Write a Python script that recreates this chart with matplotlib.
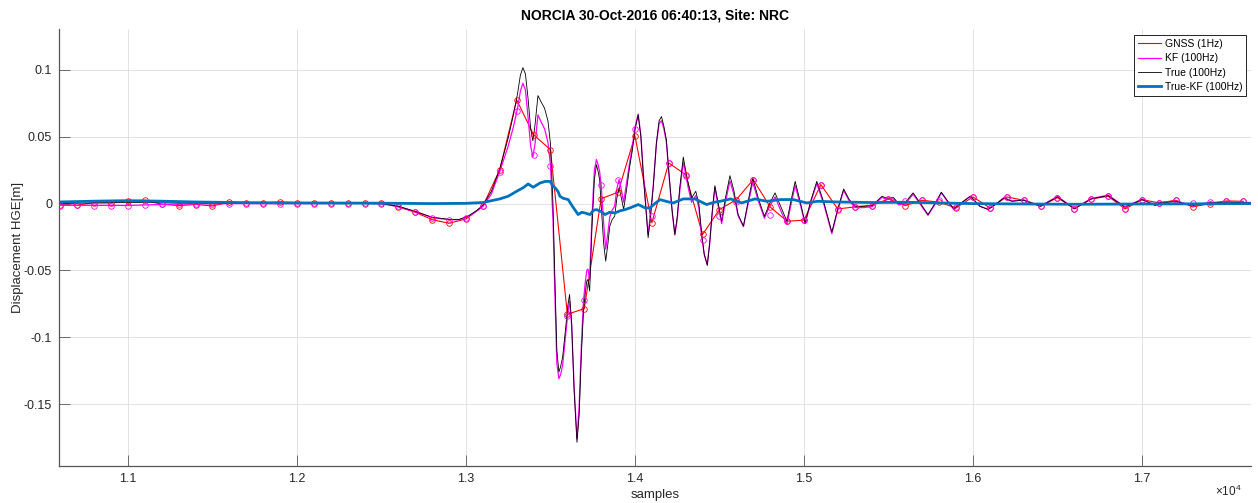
import numpy as np
import matplotlib.pyplot as plt

plt.rcParams['font.family'] = ['Liberation Sans', 'DejaVu Sans']
plt.rcParams['mathtext.fontset'] = 'custom'
plt.rcParams['mathtext.rm'] = 'Liberation Sans'

# GNSS epochs (1 Hz = every 100 samples)
gnss_samples = np.arange(10600, 17601, 100)
gnss_disp = [
    -0.0012, -0.0012, 0.0007, 0.0005, 0.0020, 0.0025, -0.0005, -0.0015, -0.0007, -0.0017,
    0.0010, 0.0005, 0.0005, 0.0012, 0.0007, 0.0005, 0.0005, 0.0005, 0.0005, 0.0007,
    -0.0025, -0.0065, -0.0120, -0.0147, -0.0115, -0.0020, 0.0254, 0.0776, 0.0515, 0.0403,
    -0.0828, -0.0786, 0.0037, 0.0085, 0.0507, -0.0144, 0.0304, 0.0216, -0.0231, -0.0045,
    0.0030, 0.0179, -0.0025, -0.0132, -0.0124, 0.0142, -0.0040, -0.0025, -0.0015, 0.0035,
    -0.0015, 0.0025, 0.0010, -0.0032, 0.0050, -0.0032, 0.0050, 0.0025, -0.0020, 0.0045,
    -0.0037, 0.0035, 0.0055, -0.0040, 0.0030, 0.0005, 0.0025, -0.0025, 0.0000, 0.0020,
    0.0017,
]
kf_at_gnss = [
    -0.0015, -0.0012, -0.0020, -0.0020, -0.0020, -0.0012, 0.0000, 0.0000, 0.0000, 0.0000,
    0.0000, 0.0000, 0.0000, 0.0000, 0.0000, 0.0000, 0.0000, 0.0000, 0.0000, 0.0000,
    -0.0020, -0.0060, -0.0107, -0.0120, -0.0110, -0.0020, 0.0240, 0.0689, 0.0366, 0.0283,
    -0.0840, -0.0720, 0.0142, 0.0174, 0.0557, -0.0095, 0.0304, 0.0210, -0.0269, -0.0090,
    0.0015, 0.0179, -0.0082, -0.0132, -0.0124, 0.0142, -0.0050, -0.0025, -0.0015, 0.0035,
    0.0017, 0.0025, 0.0025, -0.0025, 0.0050, -0.0030, 0.0050, 0.0025, -0.0020, 0.0045,
    -0.0037, 0.0035, 0.0055, -0.0040, 0.0030, 0.0005, 0.0025, 0.0005, 0.0012, 0.0020,
    0.0017,
]

# 100 Hz traces (True and KF) read at turning points
hf_samples = [
    10590, 10800, 11000, 11100, 11300, 11600, 12000, 12400, 12500, 12600,
    12700, 12800, 12900, 12960, 13010, 13060, 13100, 13150, 13200, 13250,
    13280, 13305, 13322, 13337, 13352, 13368, 13383, 13396, 13408, 13426,
    13445, 13465, 13485, 13500, 13515, 13525, 13538, 13550, 13560, 13572,
    13590, 13603, 13613, 13625, 13640, 13657, 13670, 13683, 13695, 13705,
    13715, 13722, 13732, 13745, 13760, 13772, 13782, 13791, 13800, 13815,
    13827, 13840, 13851, 13865, 13880, 13893, 13906, 13920, 13933, 13950,
    13969, 13985, 14000, 14019, 14035, 14050, 14065, 14078, 14092, 14108,
    14127, 14143, 14157, 14171, 14186, 14203, 14220, 14236, 14250, 14265,
    14286, 14300, 14315, 14335, 14360, 14378, 14393, 14410, 14428, 14442,
    14458, 14473, 14490, 14513, 14535, 14562, 14585, 14610, 14642, 14670,
    14697, 14730, 14766, 14797, 14829, 14862, 14899, 14923, 14948, 14977,
    15007, 15040, 15076, 15120, 15165, 15200, 15235, 15268, 15304, 15350,
    15403, 15462, 15490, 15530, 15560, 15600, 15646, 15690, 15734, 15775,
    15813, 15850, 15887, 15935, 15985, 16041, 16090, 16140, 16183, 16230,
    16300, 16400, 16500, 16600, 16700, 16800, 16900, 17000, 17080, 17100,
    17200, 17300, 17400, 17500, 17645,
]
true_hf = [
    0.0000, 0.0005, 0.0008, 0.0008, 0.0004, 0.0004, 0.0005, 0.0005, 0.0000, -0.0020,
    -0.0058, -0.0102, -0.0118, -0.0118, -0.0095, -0.0055, -0.0012, 0.0090, 0.0260, 0.0490,
    0.0660, 0.0820, 0.0960, 0.1017, 0.0970, 0.0780, 0.0560, 0.0470, 0.0580, 0.0808,
    0.0760, 0.0714, 0.0620, 0.0450, 0.0000, -0.0500, -0.1100, -0.1260, -0.1220, -0.1150,
    -0.0930, -0.0760, -0.0680, -0.0880, -0.1400, -0.1786, -0.1580, -0.1130, -0.0820, -0.0680,
    -0.0580, -0.0567, -0.0654, -0.0200, 0.0180, 0.0291, 0.0240, 0.0179, -0.0010, -0.0300,
    -0.0430, -0.0300, -0.0169, -0.0120, -0.0095, 0.0040, 0.0117, 0.0040, -0.0045, 0.0100,
    0.0278, 0.0400, 0.0550, 0.0664, 0.0500, 0.0200, -0.0050, -0.0256, -0.0100, 0.0120,
    0.0453, 0.0620, 0.0651, 0.0580, 0.0477, 0.0200, -0.0050, -0.0231, -0.0100, 0.0120,
    0.0348, 0.0250, 0.0154, 0.0042, 0.0092, 0.0000, -0.0200, -0.0380, -0.0463, -0.0300,
    -0.0050, 0.0134, 0.0020, -0.0132, 0.0040, 0.0209, 0.0100, -0.0080, -0.0169, 0.0020,
    0.0192, 0.0040, -0.0095, 0.0000, 0.0080, -0.0020, -0.0132, 0.0020, 0.0166, 0.0020,
    -0.0149, 0.0020, 0.0166, 0.0000, -0.0214, -0.0040, 0.0110, 0.0030, -0.0020, -0.0020,
    -0.0015, 0.0055, 0.0040, 0.0045, 0.0000, 0.0010, 0.0080, 0.0000, -0.0082, 0.0000,
    0.0085, 0.0020, -0.0040, 0.0010, 0.0055, -0.0020, -0.0045, 0.0000, 0.0042, 0.0017,
    0.0025, -0.0020, 0.0050, -0.0040, 0.0035, 0.0060, -0.0027, 0.0030, -0.0015, 0.0005,
    0.0015, -0.0015, 0.0005, 0.0010, 0.0005,
]
kf_hf = [
    -0.0012, -0.0013, -0.0014, -0.0010, -0.0004, 0.0000, 0.0000, 0.0002, -0.0002, -0.0022,
    -0.0060, -0.0105, -0.0120, -0.0121, -0.0100, -0.0060, -0.0020, 0.0070, 0.0240, 0.0430,
    0.0570, 0.0710, 0.0840, 0.0900, 0.0850, 0.0640, 0.0430, 0.0350, 0.0440, 0.0664,
    0.0610, 0.0560, 0.0460, 0.0290, -0.0120, -0.0620, -0.1200, -0.1310, -0.1280, -0.1210,
    -0.0980, -0.0820, -0.0730, -0.0900, -0.1370, -0.1760, -0.1510, -0.1060, -0.0740, -0.0600,
    -0.0500, -0.0490, -0.0570, -0.0120, 0.0250, 0.0330, 0.0290, 0.0240, 0.0140, -0.0150,
    -0.0340, -0.0220, -0.0100, -0.0050, -0.0020, 0.0110, 0.0180, 0.0100, 0.0010, 0.0150,
    0.0310, 0.0430, 0.0570, 0.0670, 0.0510, 0.0220, -0.0030, -0.0230, -0.0080, 0.0130,
    0.0450, 0.0600, 0.0620, 0.0560, 0.0460, 0.0190, -0.0060, -0.0235, -0.0120, 0.0090,
    0.0310, 0.0220, 0.0120, 0.0010, 0.0060, -0.0030, -0.0230, -0.0380, -0.0455, -0.0300,
    -0.0060, 0.0120, 0.0000, -0.0150, 0.0010, 0.0170, 0.0070, -0.0090, -0.0172, 0.0000,
    0.0160, 0.0020, -0.0110, -0.0020, 0.0050, -0.0050, -0.0155, -0.0010, 0.0136, 0.0000,
    -0.0150, 0.0010, 0.0150, -0.0015, -0.0225, -0.0050, 0.0098, 0.0020, -0.0030, -0.0030,
    -0.0023, 0.0047, 0.0030, 0.0035, -0.0010, 0.0000, 0.0070, -0.0008, -0.0088, -0.0006,
    0.0080, 0.0015, -0.0045, 0.0008, 0.0055, -0.0020, -0.0042, 0.0000, 0.0045, 0.0020,
    0.0028, -0.0017, 0.0053, -0.0036, 0.0038, 0.0063, -0.0024, 0.0033, -0.0012, 0.0008,
    0.0018, -0.0012, 0.0008, 0.0013, 0.0008,
]

# True - KF difference
diff_samples = [
    10590, 10800, 11000, 11200, 11400, 11700, 12000, 12500, 12800, 13000,
    13100, 13200, 13250, 13300, 13340, 13368, 13398, 13438, 13470, 13497,
    13516, 13530, 13545, 13556, 13575, 13605, 13630, 13664, 13685, 13704,
    13734, 13755, 13773, 13800, 13823, 13850, 13882, 13910, 13941, 13975,
    14020, 14059, 14089, 14118, 14148, 14190, 14227, 14286, 14355, 14424,
    14470, 14503, 14566, 14631, 14710, 14780, 14860, 14937, 15016, 15080,
    15200, 15400, 15600, 15800, 16000, 16300, 16600, 17000, 17300, 17645,
]
diff_hf = [
    0.0012, 0.0018, 0.0022, 0.0018, 0.0012, 0.0007, 0.0005, 0.0003, 0.0000, 0.0002,
    0.0008, 0.0035, 0.0055, 0.0092, 0.0120, 0.0147, 0.0122, 0.0154, 0.0166, 0.0166,
    0.0130, 0.0115, 0.0090, 0.0055, 0.0040, 0.0030, -0.0020, -0.0082, -0.0065, -0.0070,
    -0.0082, -0.0050, -0.0045, -0.0060, -0.0082, -0.0065, -0.0070, -0.0055, -0.0045, -0.0030,
    -0.0007, -0.0032, -0.0032, 0.0000, 0.0030, 0.0015, 0.0005, 0.0035, 0.0035, -0.0007,
    0.0010, 0.0017, 0.0035, 0.0005, 0.0035, 0.0017, 0.0030, 0.0030, 0.0005, 0.0017,
    0.0012, 0.0008, 0.0010, 0.0005, 0.0000, -0.0003, -0.0005, -0.0003, -0.0002, 0.0000,
]

xtick_vals = [11000, 12000, 13000, 14000, 15000, 16000, 17000]
xtick_labels = ['1.1', '1.2', '1.3', '1.4', '1.5', '1.6', '1.7']
ytick_vals = [-0.15, -0.1, -0.05, 0, 0.05, 0.1]
ytick_labels = ['-0.15', '-0.1', '-0.05', '0', '0.05', '0.1']

fig = plt.figure(figsize=(12.58, 5.03), dpi=100)
ax = fig.add_axes([0.0469, 0.0736, 0.9475, 0.8687])

blue = (0, 0.447, 0.741)
ax.plot(gnss_samples, gnss_disp, color='red', lw=0.8, label='GNSS (1Hz)', zorder=3)
ax.plot(hf_samples, kf_hf, color='magenta', lw=0.9, label='KF (100Hz)', zorder=4)
ax.plot(hf_samples, true_hf, color='black', lw=0.6, label='True (100Hz)', zorder=5)
ax.plot(diff_samples, diff_hf, color=blue, lw=2.0, label='True-KF (100Hz)', zorder=7)
ax.plot(gnss_samples, gnss_disp, 'o', mfc='none', mec='red', ms=4, mew=0.6, zorder=6)
ax.plot(gnss_samples, kf_at_gnss, 'o', mfc='none', mec='magenta', ms=4, mew=0.6, zorder=6)

ax.set_xlim(10592, 17645)
ax.set_ylim(-0.1963, 0.1306)
ax.set_xticks(xtick_vals)
ax.set_xticklabels(xtick_labels)
ax.set_yticks(ytick_vals)
ax.set_yticklabels(ytick_labels)

ax.grid(True, color='#dedede', lw=0.6)
ax.set_axisbelow(True)
for side in ['top', 'right']:
    ax.spines[side].set_visible(False)
for side in ['left', 'bottom']:
    ax.spines[side].set_color('#555555')
    ax.spines[side].set_linewidth(0.9)
ax.tick_params(direction='in', length=8, width=0.6, color='#555555',
               labelsize=9, labelcolor='#262626', pad=5)

ax.set_title('NORCIA 30-Oct-2016 06:40:13, Site: NRC', fontsize=10,
             fontweight='bold', pad=7)
ax.set_xlabel('samples', fontsize=9.5, labelpad=3, color='#262626')
ax.set_ylabel('Displacement HGE[m]', fontsize=9.5, labelpad=0, color='#262626')
ax.text(0.992, -0.058, r'$\times\mathregular{10^{4}}$', transform=ax.transAxes,
        ha='right', va='center', fontsize=8.5, color='#262626')

leg = ax.legend(loc='upper right', fontsize=7.5, frameon=True, fancybox=False,
                edgecolor='black', framealpha=1, handlelength=2.2,
                borderpad=0.35, labelspacing=0.42, handletextpad=0.4,
                borderaxespad=0, bbox_to_anchor=(0.9958, 0.986))
leg.get_frame().set_linewidth(0.6)

fig.savefig('out.png', dpi=100)
